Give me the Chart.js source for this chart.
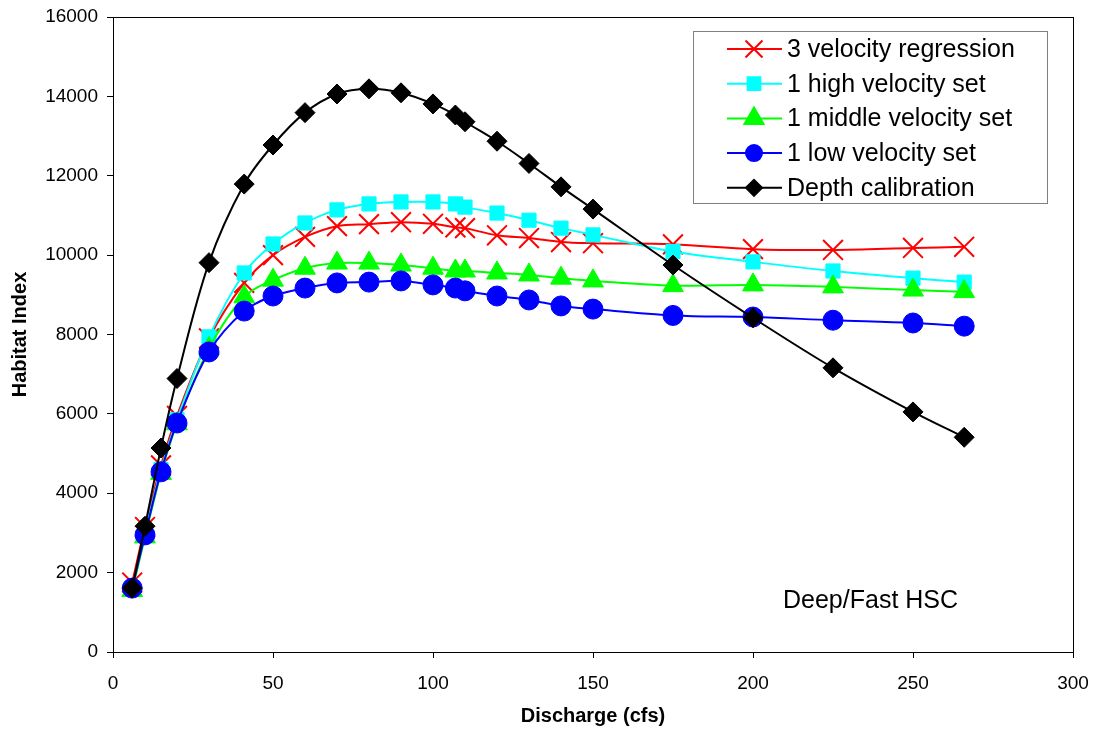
<!DOCTYPE html>
<html>
<head>
<meta charset="utf-8">
<script src="https://cdn.jsdelivr.net/npm/chart.js@4"></script>
<style>
  html, body { margin: 0; padding: 0; background: #fff; }
  #wrap { position: relative; width: 1094px; height: 732px; }
</style>
</head>
<body>
<div id="wrap"><canvas id="chart" width="1094" height="732"></canvas></div>
<script>
const discharge = [6, 10, 15, 20, 30, 41, 50, 60, 70, 80, 90, 100, 107, 110, 120, 130, 140, 150, 175, 200, 225, 250, 266];

const regression3 = [1750, 3150, 4700, 5950, 7900, 9300, 10000, 10460, 10730, 10780, 10830, 10790, 10700, 10680, 10500, 10430, 10330, 10300, 10270, 10150, 10130, 10180, 10210];
const highSet = [1600, 3000, 4600, 5850, 7940, 9550, 10280, 10810, 11140, 11290, 11340, 11340, 11290, 11210, 11060, 10880, 10680, 10510, 10090, 9830, 9600, 9420, 9320];
const middleSet = [1550, 2900, 4500, 5750, 7650, 8950, 9370, 9670, 9800, 9800, 9750, 9670, 9600, 9600, 9550, 9500, 9420, 9350, 9230, 9250, 9200, 9120, 9080];
const lowSet = [1610, 2950, 4540, 5770, 7560, 8590, 8970, 9170, 9300, 9320, 9350, 9250, 9170, 9100, 8970, 8870, 8720, 8640, 8480, 8440, 8360, 8290, 8210];
const depthCal = [1610, 3170, 5140, 6890, 9810, 11790, 12775, 13590, 14060, 14190, 14090, 13810, 13530, 13360, 12870, 12310, 11720, 11160, 9750, 8420, 7160, 6050, 5410];

const seriesNames = ['3 velocity regression', '1 high velocity set', '1 middle velocity set', '1 low velocity set', 'Depth calibration'];
const xTicks = [0, 50, 100, 150, 200, 250, 300];
const yTicks = [0, 2000, 4000, 6000, 8000, 10000, 12000, 14000, 16000];
const noteText = 'Deep/Fast HSC';

const FONT = '"Liberation Sans", Arial, sans-serif';

function pts(ys) {
  return ys.map((y, i) => ({ x: discharge[i], y }));
}

function series(label, ys, color, style, radius, order, legendRadius) {
  return {
    label,
    data: pts(ys),
    borderColor: color,
    backgroundColor: color,
    borderWidth: 2,
    pointStyle: style,
    pointRadius: radius,
    pointBorderColor: color,
    pointBackgroundColor: color,
    pointBorderWidth: style === 'crossRot' ? 2 : 1,
    tension: 0.35,
    order,
    legendRadius,
  };
}

// legend box + note drawn on the canvas
const boxLegend = {
  id: 'boxLegend',
  afterDraw(chart) {
    const ctx = chart.ctx;
    ctx.save();
    ctx.strokeStyle = '#808080';
    ctx.lineWidth = 1;
    ctx.strokeRect(693.5, 31.5, 354, 172);
    ctx.font = '25px ' + FONT;
    ctx.textBaseline = 'middle';
    ctx.textAlign = 'left';
    chart.data.datasets.forEach((ds, i) => {
      const y = 49 + i * 34.7;
      ctx.strokeStyle = ds.borderColor;
      ctx.lineWidth = 2;
      ctx.beginPath();
      ctx.moveTo(727, y);
      ctx.lineTo(782, y);
      ctx.stroke();
      ctx.fillStyle = ds.borderColor;
      Chart.helpers.drawPoint(ctx, {
        pointStyle: ds.pointStyle,
        radius: ds.legendRadius,
        rotation: 0,
        borderWidth: ds.pointBorderWidth,
      }, 754, y);
      ctx.fillStyle = '#000';
      ctx.fillText(ds.label, 787, y + 1);
    });
    ctx.fillText(noteText, 783, 601);

    // plot frame
    const a = chart.chartArea;
    ctx.strokeStyle = '#000';
    ctx.lineWidth = 1;
    ctx.strokeRect(Math.round(a.left) + 0.5, Math.round(a.top) + 0.5, Math.round(a.right - a.left), Math.round(a.bottom - a.top));
    ctx.restore();
  }
};

new Chart(document.getElementById('chart'), {
  type: 'line',
  data: {
    datasets: [
      series(seriesNames[0], regression3, '#ff0000', 'crossRot', 14, 5, 12),
      series(seriesNames[1], highSet, '#00ffff', 'rect', 10, 4, 9),
      series(seriesNames[2], middleSet, '#00ff00', 'triangle', 12, 3, 11),
      series(seriesNames[3], lowSet, '#0000ff', 'circle', 10, 2, 8),
      series(seriesNames[4], depthCal, '#000000', 'rectRot', 10, 1, 8),
    ],
  },
  options: {
    responsive: false,
    animation: false,
    layout: { padding: { top: 17, right: 21, left: 0, bottom: 0 } },
    plugins: {
      legend: { display: false },
      tooltip: { enabled: false },
    },
    scales: {
      x: {
        type: 'linear',
        min: 0,
        max: 300,
        afterBuildTicks: s => { s.ticks = xTicks.map(v => ({ value: v })); },
        afterFit: s => { s.height = 80; s.paddingLeft = 0; s.paddingRight = 0; },
        grid: { drawOnChartArea: false, tickLength: 6, color: '#000' },
        border: { color: '#000', width: 1 },
        ticks: { color: '#000', font: { family: FONT, size: 19 }, padding: 14, maxRotation: 0, callback: v => String(v) },
        title: { display: true, text: 'Discharge (cfs)', color: '#000', font: { family: FONT, size: 20, weight: 'bold' }, padding: { top: 6 } },
      },
      y: {
        min: 0,
        max: 16000,
        afterBuildTicks: s => { s.ticks = yTicks.map(v => ({ value: v })); },
        afterFit: s => { s.width = 113; s.paddingTop = 0; s.paddingBottom = 0; },
        grid: { drawOnChartArea: false, tickLength: 6, color: '#000' },
        border: { color: '#000', width: 1 },
        ticks: { color: '#000', font: { family: FONT, size: 19 }, padding: 9, callback: v => String(v) },
        title: { display: true, text: 'Habitat Index', color: '#000', font: { family: FONT, size: 20, weight: 'bold' }, padding: { top: 8, bottom: 4 } },
      },
    },
  },
  plugins: [boxLegend],
});
</script>
</body>
</html>
